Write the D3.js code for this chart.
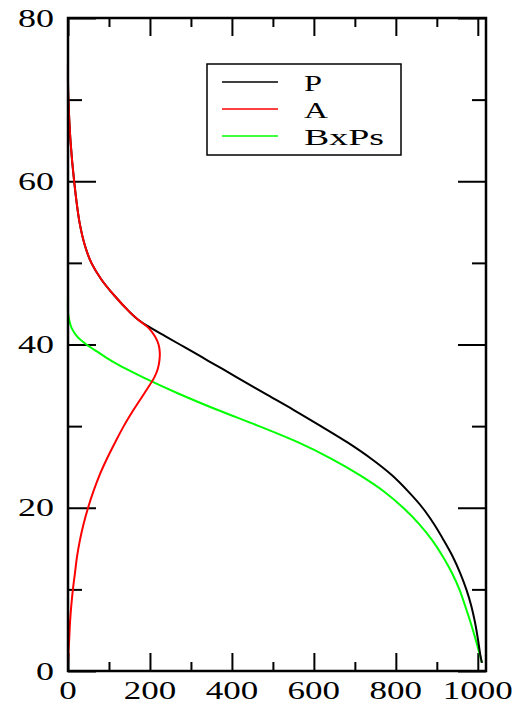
<!DOCTYPE html>
<html>
<head>
<meta charset="utf-8">
<script src="https://cdn.jsdelivr.net/npm/d3@7.9.0/dist/d3.min.js"></script>
<style>
  body { margin: 0; background: #fff; }
  svg { display: block; }
  text { font-family: "Liberation Serif", "DejaVu Serif", serif; fill: #000; }
</style>
</head>
<body>
<svg id="chart" width="518" height="707"></svg>
<script>
// y positions (vertical axis) where each curve was read
const yVals = [1, 2, 4, 6, 8, 10, 12, 14, 16, 18, 20, 22, 24, 26, 28, 30, 32, 34, 36, 37, 38,
  39, 40, 41, 42, 43, 44, 46, 48, 50, 52, 55, 60, 65, 70, 72, 75, 80];

// horizontal values for each series at those y's
const pVals = [1010, 1006, 1000, 993, 984, 972, 957, 939, 917, 893, 865, 830, 790, 740, 682,
  617, 550, 480, 411, 377, 342, 308, 273, 238, 203, 172, 150, 113, 81, 57, 42, 28, 15, 6, 1, 0, 0, 0];
const aVals = [0, 1, 3, 5, 8, 12, 17, 22, 29, 38, 49, 62, 77, 95, 115, 136, 160, 186, 211, 219, 223,
  224, 221, 212, 197, 172, 150, 113, 81, 57, 42, 28, 15, 6, 1, 0, 0, 0];
const bVals = [1010, 1005, 994, 982, 969, 955, 937, 915, 889, 857, 818, 771, 712, 643, 562,
  466, 364, 269, 182, 142, 106, 75, 45, 22, 9, 3, 0, 0, 0, 0, 0, 0, 0, 0, 0, 0, 0, 0];

const seriesNames = ["P", "A", "BxPs"];
const seriesColors = ["#000000", "#ff0000", "#00ff00"];

const xMajor = [0, 200, 400, 600, 800, 1000];
const xMinor = [100, 300, 500, 700, 900];
const yMajor = [0, 20, 40, 60, 80];
const yMinor = [10, 30, 50, 70];

const svg = d3.select("#chart");
const plotL = 68, plotR = 486, plotT = 18, plotB = 671;

const x = d3.scaleLinear().domain([0, 1020]).range([plotL, plotR]);
const y = d3.scaleLinear().domain([0, 80]).range([plotB, plotT]);

// ticks, pointing inward on all four sides
function tickAxis(axisFn, scale, values, size, transform) {
  const g = svg.append("g")
    .attr("transform", transform)
    .call(axisFn(scale).tickValues(values).tickSize(size).tickFormat(""));
  g.select(".domain").remove();
  g.selectAll("line").attr("stroke", "#000").attr("stroke-width", 2);
}
tickAxis(d3.axisBottom, x, xMajor, -18, `translate(0,${plotB})`);
tickAxis(d3.axisBottom, x, xMinor, -9, `translate(0,${plotB})`);
tickAxis(d3.axisTop, x, xMajor, -18, `translate(0,${plotT})`);
tickAxis(d3.axisTop, x, xMinor, -9, `translate(0,${plotT})`);
tickAxis(d3.axisLeft, y, yMajor, -28, `translate(${plotL},0)`);
tickAxis(d3.axisLeft, y, yMinor, -14, `translate(${plotL},0)`);
tickAxis(d3.axisRight, y, yMajor, -28, `translate(${plotR},0)`);
tickAxis(d3.axisRight, y, yMinor, -14, `translate(${plotR},0)`);

// curves
const allVals = [pVals, aVals, bVals];
const line = d3.line()
  .x(d => x(d.v))
  .y(d => y(d.y))
  .curve(d3.curveCatmullRom.alpha(0.5));

// draw green, then red, then black on top where they overlap
[2, 0, 1].forEach(i => {
  const pts = yVals.map((yy, k) => ({ y: yy, v: allVals[i][k] }));
  svg.append("path")
    .datum(pts)
    .attr("d", line)
    .attr("fill", "none")
    .attr("stroke", seriesColors[i])
    .attr("stroke-width", 2);
});

// frame
svg.append("rect")
  .attr("x", plotL).attr("y", plotT)
  .attr("width", plotR - plotL).attr("height", plotB - plotT)
  .attr("fill", "none").attr("stroke", "#000").attr("stroke-width", 2.5);

// tick labels (the reference glyphs are wide, so stretch them)
svg.append("g").selectAll("text")
  .data(xMajor)
  .join("text")
  .attr("x", d => x(d))
  .attr("y", 699)
  .attr("text-anchor", "middle")
  .attr("font-size", 25)
  .attr("textLength", d => String(d).length * 17.5)
  .attr("lengthAdjust", "spacingAndGlyphs")
  .text(d => d);

svg.append("g").selectAll("text")
  .data(yMajor)
  .join("text")
  .attr("x", 54)
  .attr("y", d => y(d) + 8.5)
  .attr("text-anchor", "end")
  .attr("font-size", 25)
  .attr("textLength", d => String(d).length * 18)
  .attr("lengthAdjust", "spacingAndGlyphs")
  .text(d => d);

// legend
const legend = svg.append("g");
legend.append("rect")
  .attr("x", 207).attr("y", 64)
  .attr("width", 194).attr("height", 91)
  .attr("fill", "#fff").attr("stroke", "#000").attr("stroke-width", 1.5);
const legendW = [18, 24, 80];
seriesNames.forEach((name, i) => {
  const ly = 82 + i * 27;
  legend.append("line")
    .attr("x1", 222).attr("x2", 278)
    .attr("y1", ly).attr("y2", ly)
    .attr("stroke", seriesColors[i]).attr("stroke-width", 1.5);
  legend.append("text")
    .attr("x", 304).attr("y", ly + 9)
    .attr("font-size", 23)
    .attr("textLength", legendW[i])
    .attr("lengthAdjust", "spacingAndGlyphs")
    .text(name);
});
</script>
</body>
</html>
